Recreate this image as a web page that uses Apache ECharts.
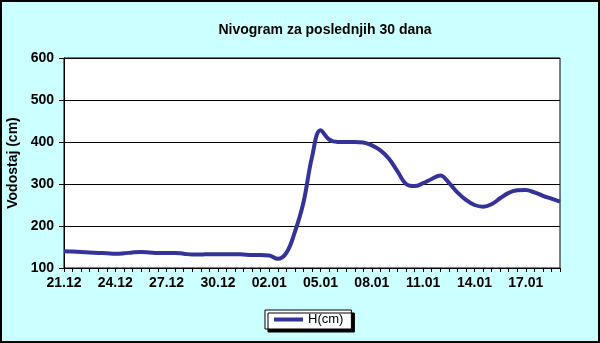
<!DOCTYPE html>
<html><head><meta charset="utf-8">
<script src="https://cdn.jsdelivr.net/npm/echarts@6/dist/echarts.min.js"></script>
<style>html,body{margin:0;padding:0;background:#CCFFFF}#c{width:600px;height:343px}</style>
</head><body><div id="c"></div>
<script>
const titleText = "Nivogram za poslednjih 30 dana";
const yAxisName = "Vodostaj (cm)";
const seriesName = "H(cm)";
const categories = [
 "21.12","21.12","22.12","22.12","23.12","23.12","24.12","24.12","25.12","25.12",
 "26.12","26.12","27.12","27.12","28.12","28.12","29.12","29.12","30.12","30.12",
 "31.12","31.12","01.01","01.01","02.01","02.01","03.01","03.01","04.01","04.01",
 "05.01","05.01","06.01","06.01","07.01","07.01","08.01","08.01","09.01","09.01",
 "10.01","10.01","11.01","11.01","12.01","12.01","13.01","13.01","14.01","14.01",
 "15.01","15.01","16.01","16.01","17.01","17.01","18.01","18.01","19.01"
];
const values = [
 140,139,138,137,136,135,134,135,137,138,
 137,136,136,136,134,132,132,133,133,133,
 133,132,131,131,130,122,136,186,256,364,
 428,406,400,400,400,399,392,380,360,330,
 300,295,302,312,320,303,280,262,250,246,
 252,266,279,285,286,280,272,265,258
];
const yMin = 100, yMax = 600, yStep = 100;

const chart = echarts.init(document.getElementById('c'), null, {renderer:'canvas'});
const font = 'Liberation Sans, Arial, sans-serif';
chart.setOption({
  backgroundColor: '#CCFFFF',
  animation: false,
  title: {
    text: titleText, left: 320, textAlign: 'center', top: 18,
    textStyle: {fontFamily: font, fontSize: 14, fontWeight: 'bold', color: '#000'}
  },
  legend: {
    data: [seriesName], left: 265, top: 310,
    backgroundColor: '#fff', borderColor: '#000', borderWidth: 1,
    padding: [3, 8, 3, 9], itemWidth: 29, itemHeight: 4, icon: 'rect',
    shadowColor: '#000', shadowOffsetX: 3, shadowOffsetY: 3, shadowBlur: 0,
    textStyle: {fontFamily: font, fontSize: 13, color: '#000'}
  },
  grid: {left: 64, right: 40, top: 58, bottom: 75, outerBoundsMode: 'none', containLabel: false,
         show: true, backgroundColor: '#fff', borderColor: '#000', borderWidth: 1},
  xAxis: {
    type: 'category', data: categories, boundaryGap: false,
    axisLine: {lineStyle: {color: '#000', width: 1}},
    axisTick: {show: true, interval: 0, length: 4, lineStyle: {color: '#000'}},
    axisLabel: {interval: 5, fontFamily: font, fontSize: 14, fontWeight: 'bold', color: '#000', margin: 8},
    splitLine: {show: false}
  },
  yAxis: {
    type: 'value', min: yMin, max: yMax, interval: yStep,
    name: yAxisName, nameLocation: 'middle', nameGap: 40, nameRotate: 90,
    nameTextStyle: {fontFamily: font, fontSize: 14, fontWeight: 'bold', color: '#000'},
    axisLine: {show: true, lineStyle: {color: '#000'}},
    axisTick: {show: true, length: 5, lineStyle: {color: '#000'}},
    axisLabel: {fontFamily: font, fontSize: 14, fontWeight: 'bold', color: '#000', margin: 10},
    splitLine: {show: true, lineStyle: {color: '#000', width: 1}}
  },
  series: [{
    name: seriesName, type: 'line', data: values, smooth: 0.4,
    showSymbol: false, symbol: 'none',
    lineStyle: {color: '#333399', width: 4}, itemStyle: {color: '#333399'}
  }],
  graphic: [{
    type: 'rect', shape: {x: 1, y: 1, width: 598, height: 341},
    style: {fill: null, stroke: '#000', lineWidth: 2}, z: 100
  }]
});
</script></body></html>
